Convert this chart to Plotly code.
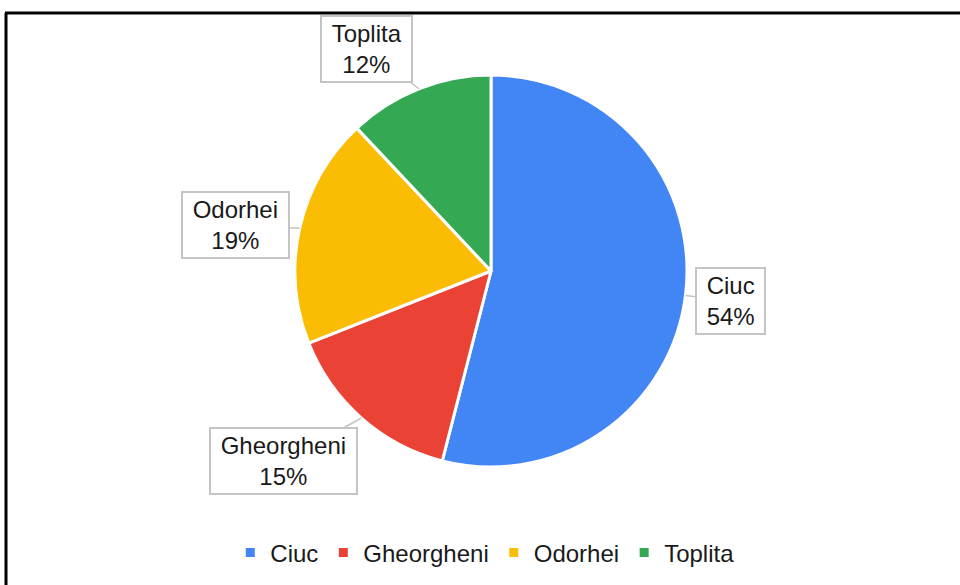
import math
import plotly.graph_objects as go

# data
regions = ["Ciuc", "Gheorgheni", "Odorhei", "Toplita"]
shares = [54, 15, 19, 12]
colors = ["#4285F4", "#EA4335", "#FBBC04", "#34A853"]

W, H = 960, 585
# pie placement (pixels)
cx, cy, r = 491, 271, 196
# label box offsets from the slice edge (pixels)
label_offsets = [(45, 5), (-78, 43), (-64, -3), (-52, -40)]

fig = go.Figure()
fig.add_trace(go.Pie(
    labels=regions, values=shares, sort=False, direction="clockwise", rotation=0,
    marker=dict(colors=colors, line=dict(color="white", width=3)),
    textinfo="none", hoverinfo="label+percent",
    domain=dict(x=[(cx - r) / W, (cx + r) / W], y=[1 - (cy + r) / H, 1 - (cy - r) / H]),
))

total = sum(shares)
cum = 0
for name, v, (ax, ay) in zip(regions, shares, label_offsets):
    mid = (cum + v / 2) / total * 2 * math.pi
    cum += v
    tx = cx + r * math.sin(mid)
    ty = cy - r * math.cos(mid)
    pct = round(v / total * 100)
    fig.add_annotation(
        x=tx / W, y=1 - ty / H, xref="paper", yref="paper",
        text=f"&nbsp;{name}&nbsp;<br>{pct}%",
        showarrow=True, arrowhead=0, arrowwidth=1.5, arrowcolor="#c4c4c4",
        ax=ax, ay=ay, standoff=0,
        bgcolor="white", bordercolor="#c4c4c4", borderwidth=2, borderpad=3,
        font=dict(size=24, color="#1a1a1a", family="Liberation Sans, Arial"),
    )

# chart frame (top and left edges visible)
fig.add_shape(type="line", xref="paper", yref="paper", x0=5 / W, x1=1, y0=1 - 13 / H, y1=1 - 13 / H,
              line=dict(color="black", width=3))
fig.add_shape(type="line", xref="paper", yref="paper", x0=6 / W, x1=6 / W, y0=0, y1=1 - 13 / H,
              line=dict(color="black", width=3))

fig.update_layout(
    width=W, height=H,
    margin=dict(l=0, r=0, t=0, b=0),
    paper_bgcolor="white", plot_bgcolor="white",
    font=dict(family="Liberation Sans, Arial", size=24, color="#1a1a1a"),
    legend=dict(orientation="h", x=0.505, xanchor="center", y=1 - 553 / H, yanchor="middle",
                font=dict(size=24), itemwidth=30, traceorder="normal"),
    showlegend=True,
)

fig.write_html("out.html", config={"displayModeBar": False},
               post_script="document.body.style.margin='0';")
